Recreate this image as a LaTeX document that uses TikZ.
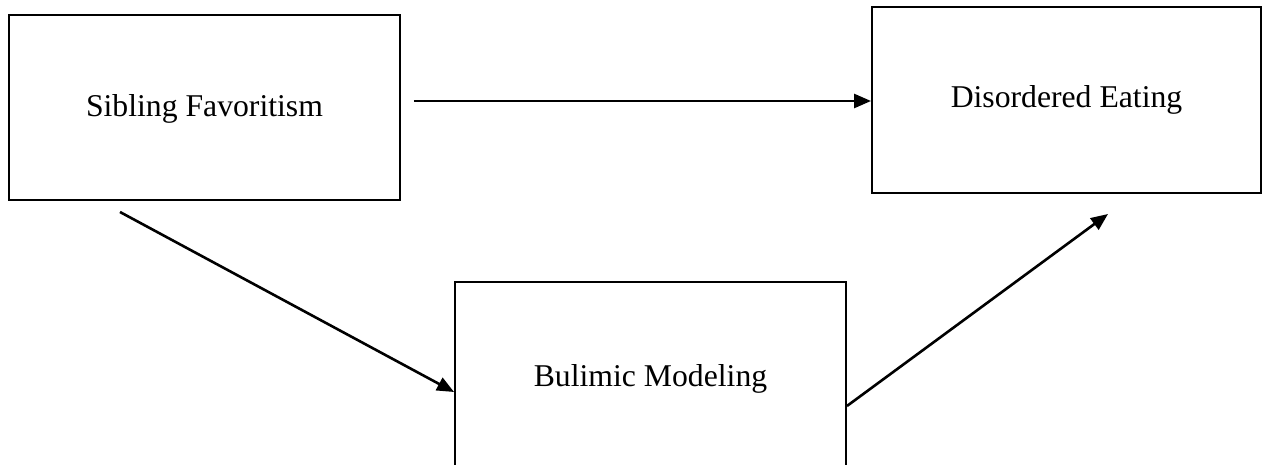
\documentclass[tikz,border=0pt]{standalone}
\usepackage{fontspec}
\setmainfont{Liberation Serif}
\usetikzlibrary{arrows.meta}
\tikzset{
  varbox/.style={draw, line width=1.9pt, inner sep=0pt, align=center,
    text height=22pt, text depth=7pt,
    font=\fontsize{31.7}{38}\selectfont},
  path arrow/.style={line width=2.6pt, -{Triangle[length=17pt,width=14pt]}}
}
\begin{document}
\begin{tikzpicture}[x=1pt,y=-1pt]
  \useasboundingbox (0,0) rectangle (1264,465);
  \clip (0,0) rectangle (1264,465);
  \fill[white] (0,0) rectangle (1264,465);

  % the three variables
  \node[varbox, text height=26pt, minimum width=391pt, minimum height=185pt] (sf) at (204.5,107.5) {Sibling Favoritism};
  \node[varbox, minimum width=389pt, minimum height=186pt] (de) at (1066.5,100) {Disordered Eating};
  \node[varbox, minimum width=391pt, minimum height=193pt] (bm) at (650.5,378.5) {Bulimic Modeling};

  % free ends of the mediation paths
  \coordinate (bmstart) at (120,212);
  \coordinate (detip) at (1108,214);

  % direct path
  \draw[path arrow] ([shift={(13,-6.5)}]sf.east) -- ([yshift=-1pt]de.west);
  % indirect path through the mediator
  \draw[path arrow] (bmstart) -- ([shift={(0,13.5)}]bm.west);
  \draw[path arrow] ([shift={(0,27.5)}]bm.east) -- (detip);
\end{tikzpicture}
\end{document}
